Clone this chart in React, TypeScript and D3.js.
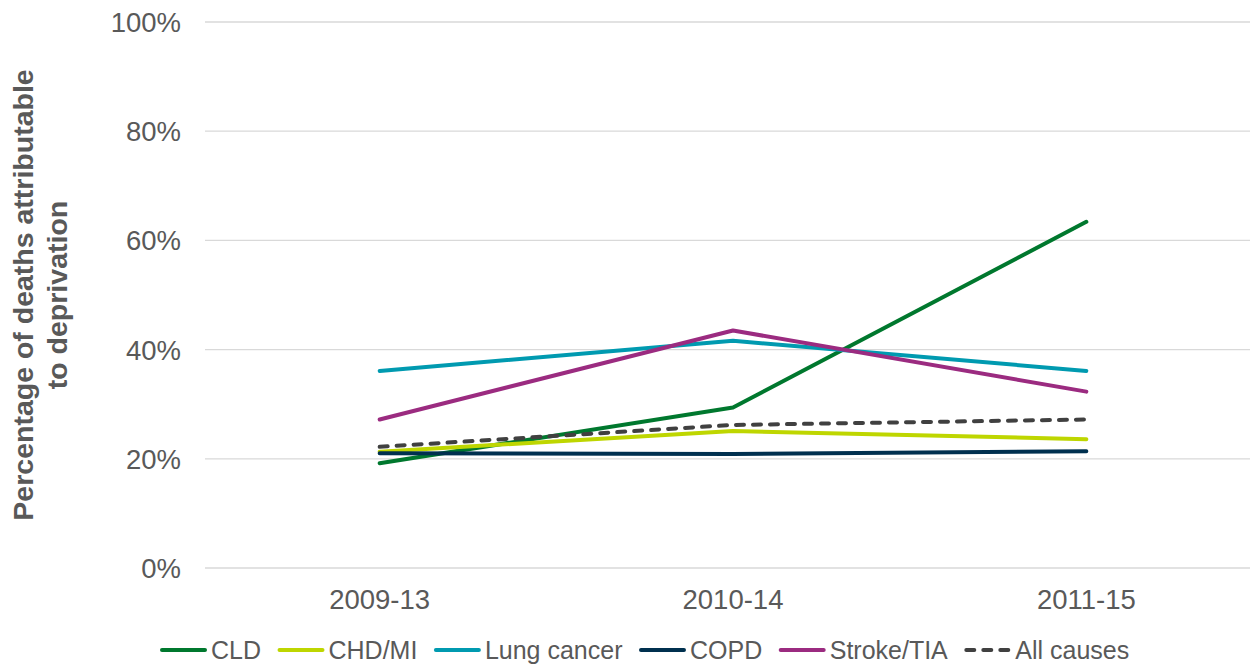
import React from "react";
import * as d3 from "d3";

const categories = ["2009-13", "2010-14", "2011-15"];
const seriesNames = ["CLD", "CHD/MI", "Lung cancer", "COPD", "Stroke/TIA", "All causes"];
const cld = [19.2, 29.4, 63.4];
const chd = [21.3, 25.1, 23.6];
const lung = [36.1, 41.6, 36.1];
const copd = [21.0, 20.9, 21.4];
const stroke = [27.2, 43.5, 32.3];
const allCauses = [22.2, 26.2, 27.2];
const yTicks = [0, 20, 40, 60, 80, 100];

const colors = ["#00782E", "#BED600", "#009AB0", "#00304F", "#9B2B80", "#404040"];
const seriesValues = [cld, chd, lung, copd, stroke, allCauses];

const W = 1250;
const H = 664;
const FONT = "'Liberation Sans', Arial, sans-serif";
const TEXT = "#595959";

function measure(text: string, size: number) {
  if (typeof document === "undefined") return text.length * size * 0.5;
  const c = document.createElement("canvas").getContext("2d");
  if (!c) return text.length * size * 0.5;
  c.font = `${size}px 'Liberation Sans'`;
  return c.measureText(text).width;
}

export default function App() {
  const x = d3.scalePoint<string>().domain(categories).range([203, 1263]).padding(0.5);
  const y = d3.scaleLinear().domain([0, 100]).range([568, 22]);
  const line = d3
    .line<number>()
    .x((_, i) => x(categories[i]) as number)
    .y((d) => y(d));

  // legend layout
  const legendFont = 25;
  const lineLen = 47;
  const textGap = 4;
  const itemGap = 16.5;
  let cursor = 160;
  const legendItems = seriesNames.map((name, i) => {
    const start = cursor;
    const w = measure(name, legendFont);
    cursor = start + lineLen + textGap + w + itemGap;
    return { name, start, color: colors[i], dashed: i === 5 };
  });
  const legendY = 650;

  return (
    <svg
      width={W}
      height={H}
      style={{ position: "fixed", left: 0, top: 0, background: "#fff" }}
      fontFamily={FONT}
    >
      <rect width={W} height={H} fill="#fff" />
      {yTicks.map((t) => (
        <g key={t}>
          <line x1={205} x2={W} y1={y(t)} y2={y(t)} stroke="#d9d9d9" strokeWidth={1.3} />
          <text
            x={181}
            y={y(t)}
            dy="0.36em"
            textAnchor="end"
            fontSize={27.5}
            fill={TEXT}
          >
            {t}%
          </text>
        </g>
      ))}
      {categories.map((c) => (
        <text key={c} x={x(c)} y={609} textAnchor="middle" fontSize={27.5} fill={TEXT}>
          {c}
        </text>
      ))}
      <text
        transform={`translate(40, ${(y(0) + y(100)) / 2}) rotate(-90)`}
        textAnchor="middle"
        fontSize={28.5}
        fontWeight="bold"
        fill={TEXT}
      >
        <tspan x={0} dy={-7}>Percentage of deaths attributable</tspan>
        <tspan x={0} dy={34}>to deprivation</tspan>
      </text>
      {seriesValues.map((vals, i) => (
        <path
          key={seriesNames[i]}
          d={line(vals) || ""}
          fill="none"
          stroke={colors[i]}
          strokeWidth={4}
          strokeLinecap="round"
          strokeLinejoin="round"
          strokeDasharray={i === 5 ? "8 9" : undefined}
        />
      ))}
      {legendItems.map((it) => (
        <g key={it.name}>
          <line
            x1={it.start + 2}
            x2={it.start + lineLen - 2}
            y1={legendY}
            y2={legendY}
            stroke={it.color}
            strokeWidth={4}
            strokeLinecap="round"
            strokeDasharray={it.dashed ? "8 9" : undefined}
          />
          <text
            x={it.start + lineLen + textGap}
            y={legendY}
            dy="0.36em"
            fontSize={legendFont}
            fill={TEXT}
          >
            {it.name}
          </text>
        </g>
      ))}
    </svg>
  );
}
